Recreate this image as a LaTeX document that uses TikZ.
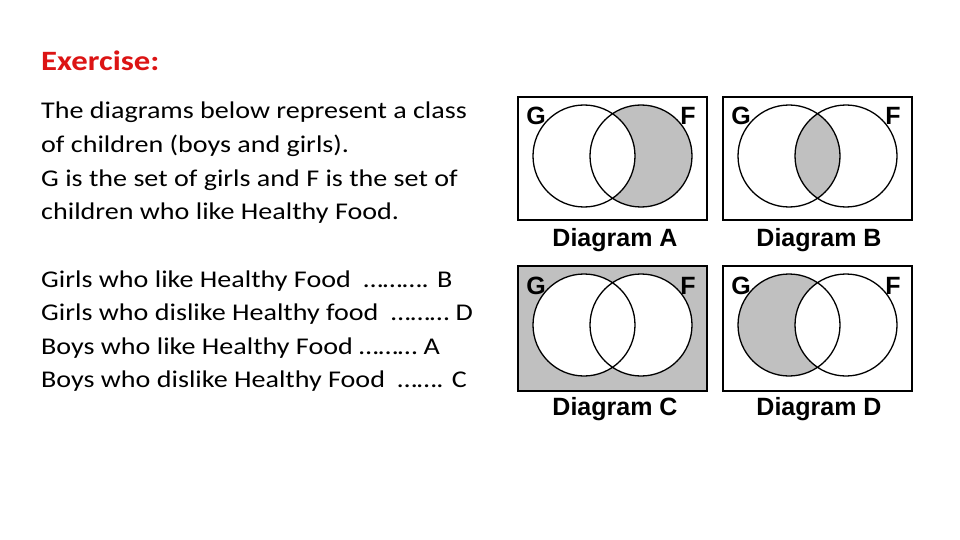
\documentclass[tikz,border=0pt]{standalone}
\usepackage{fontspec}
\setmainfont{Carlito}[FakeStretch=1.17]
\newfontfamily\arialb{Liberation Sans}[BoldFont={* Bold}]
\definecolor{exred}{RGB}{220,20,20}
\definecolor{vgray}{RGB}{192,192,192}
\begin{document}
\begin{tikzpicture}[x=1pt,y=-1pt,
  body/.style={anchor=base west,inner sep=0pt,font=\fontsize{24}{29}\selectfont},
  setlbl/.style={anchor=base,inner sep=0pt,font=\arialb\bfseries\fontsize{25}{28}\selectfont},
  diaglbl/.style={anchor=base,inner sep=0pt,font=\arialb\bfseries\fontsize{25}{29}\selectfont},
  frame/.style={draw=black,line width=1.6pt},
  ring/.style={draw=black,line width=1.3pt}]
\useasboundingbox (0,0) rectangle (960,540);
\fill[white] (0,0) rectangle (960,540);
% text
\node[body,text=exred,font=\bfseries\fontsize{28}{32}\selectfont] (ex) at (41,71) {Exercise:};
\node[body] (t1) at (41,119) {The diagrams below represent a class};
\node[body] (t2) at (41,152.5) {of children (boys and girls).};
\node[body] (t3) at (41,186) {G is the set of girls and F is the set of};
\node[body] (t4) at (41,219.5) {children who like Healthy Food.};
\node[body] (q1) at (41,287) {Girls who like Healthy Food \ ………. B};
\node[body] (q2) at (41,320.5) {Girls who dislike Healthy food \ ……… D};
\node[body] (q3) at (41,354) {Boys who like Healthy Food ……… A};
\node[body] (q4) at (41,387.5) {Boys who dislike Healthy Food \ ……. C};
% Diagram A
\coordinate (ag) at (584,156); \coordinate (af) at (641,156);
\fill[vgray] (af) circle (51pt);
\fill[white] (ag) circle (51pt);
\draw[ring] (ag) circle (51pt) (af) circle (51pt);
\draw[frame] (518,97) rectangle (707,220);
\node[setlbl] (aG) at (536,125) {G};
\node[setlbl] (aF) at (688,125) {F};
\node[diaglbl] (aL) at (615,246) {Diagram A};
% Diagram B
\coordinate (bg) at (789,156); \coordinate (bf) at (846,156);
\begin{scope}
\clip (bg) circle (51pt);
\fill[vgray] (bf) circle (51pt);
\end{scope}
\draw[ring] (bg) circle (51pt) (bf) circle (51pt);
\draw[frame] (723,97) rectangle (912,220);
\node[setlbl] (bG) at (741,125) {G};
\node[setlbl] (bF) at (893,125) {F};
\node[diaglbl] (bL) at (819,246) {Diagram B};
% Diagram C
\coordinate (cg) at (584,325); \coordinate (cf) at (641,325);
\fill[vgray] (518,266) rectangle (707,391);
\fill[white] (cg) circle (51pt) (cf) circle (51pt);
\draw[ring] (cg) circle (51pt) (cf) circle (51pt);
\draw[frame] (518,266) rectangle (707,391);
\node[setlbl] (cG) at (536,294) {G};
\node[setlbl] (cF) at (688,294) {F};
\node[diaglbl] (cL) at (615,415) {Diagram C};
% Diagram D
\coordinate (dg) at (789,325); \coordinate (df) at (846,325);
\fill[vgray] (dg) circle (51pt);
\fill[white] (df) circle (51pt);
\draw[ring] (dg) circle (51pt) (df) circle (51pt);
\draw[frame] (723,266) rectangle (912,391);
\node[setlbl] (dG) at (741,294) {G};
\node[setlbl] (dF) at (893,294) {F};
\node[diaglbl] (dL) at (819,415) {Diagram D};
\end{tikzpicture}
\end{document}
